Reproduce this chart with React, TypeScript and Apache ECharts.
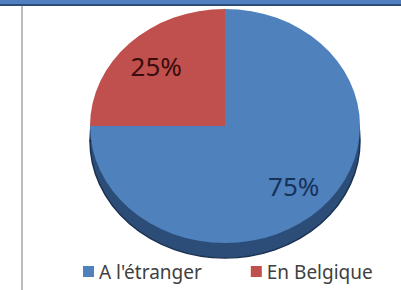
import React, { useEffect, useRef } from "react";
import * as echarts from "echarts";

const categories = ["A l'étranger", "En Belgique"];
const values = [75, 25];

const faceColors = ["#4f81bd", "#c0504d"];
const sideColors = ["#2b4d78", "#7d2f2d"];
const labelColors = ["#17325a", "#3a0c0b"];

const CX = 225;
const CY = 126;
const RX = 135;
const RY = 117;
const DEPTH = 15;
const FONT = "'Noto Sans', 'Open Sans', sans-serif";

const total = values.reduce((a, b) => a + b, 0);
const cumulative = values.map((_, i) => values.slice(0, i).reduce((a, b) => a + b, 0));

function angles(i: number, v: number) {
  const start = -Math.PI / 2 + (2 * Math.PI * cumulative[i]) / total;
  const end = start + (2 * Math.PI * v) / total;
  return { start, end };
}

export default function App() {
  const ref = useRef<HTMLDivElement>(null);
  useEffect(() => {
    if (!ref.current) return;
    const chart = echarts.init(ref.current, null, { renderer: "svg" });

    const sideSeries: any = {
      type: "custom",
      name: "sides",
      coordinateSystem: "none",
      z: 1,
      silent: true,
      data: values.map((v) => [v]),
      renderItem: (params: any, api: any) => {
        const i = params.dataIndex;
        const v = api.value(0);
        const { start, end } = angles(i, v);
        const children: any[] = [];
        if (i === 0) {
          children.push({
            type: "rect",
            shape: { x: CX - RX, y: CY, width: 2 * RX, height: DEPTH },
            style: { fill: sideColors[0] },
          });
        }
        children.push({
          type: "group",
          x: CX,
          y: CY + DEPTH,
          scaleY: RY / RX,
          children: [
            {
              type: "sector",
              shape: { cx: 0, cy: 0, r: RX, r0: 0, startAngle: start, endAngle: end, clockwise: true },
              style: { fill: sideColors[i], stroke: "#1a3150", lineWidth: 1.5 },
            },
          ],
        });
        return { type: "group", children };
      },
    };

    const faceSeries: any[] = categories.map((name, i) => ({
      type: "custom",
      name,
      coordinateSystem: "none",
      z: 2,
      itemStyle: { color: faceColors[i] },
      data: [[values[i]]],
      renderItem: (params: any, api: any) => {
        const v = api.value(0);
        const { start, end } = angles(i, v);
        const mid = (start + end) / 2;
        const f = 0.72;
        return {
          type: "group",
          children: [
            {
              type: "group",
              x: CX,
              y: CY,
              scaleY: RY / RX,
              children: [
                {
                  type: "sector",
                  shape: { cx: 0, cy: 0, r: RX, r0: 0, startAngle: start, endAngle: end, clockwise: true },
                  style: { fill: faceColors[i] },
                },
              ],
            },
            {
              type: "text",
              x: CX + Math.cos(mid) * RX * f,
              y: CY + Math.sin(mid) * RY * f,
              z2: 10,
              style: {
                text: Math.round((v / total) * 100) + "%",
                fill: labelColors[i],
                font: `26px ${FONT}`,
                align: "center",
                verticalAlign: "middle",
              },
            },
          ],
        };
      },
    }));

    chart.setOption({
      animation: false,
      backgroundColor: "#ffffff",
      legend: {
        data: categories,
        left: 78,
        top: 257,
        icon: "rect",
        itemWidth: 11,
        itemHeight: 11,
        itemGap: 49,
        textStyle: { fontFamily: FONT, fontSize: 19, color: "#404040" },
      },
      graphic: [
        { type: "rect", shape: { x: 0, y: 0, width: 401, height: 5 }, style: { fill: "#4f7fbf" }, z: 10 },
        { type: "rect", shape: { x: 0, y: 4, width: 401, height: 2 }, style: { fill: "#2d4c78" }, z: 10 },
        { type: "rect", shape: { x: 21, y: 6, width: 2, height: 284 }, style: { fill: "#bdbdbd" }, z: 10 },
      ],
      series: [sideSeries, ...faceSeries],
    });
    return () => chart.dispose();
  }, []);
  return <div ref={ref} style={{ position: "fixed", left: 0, top: 0, width: 401, height: 290 }} />;
}
